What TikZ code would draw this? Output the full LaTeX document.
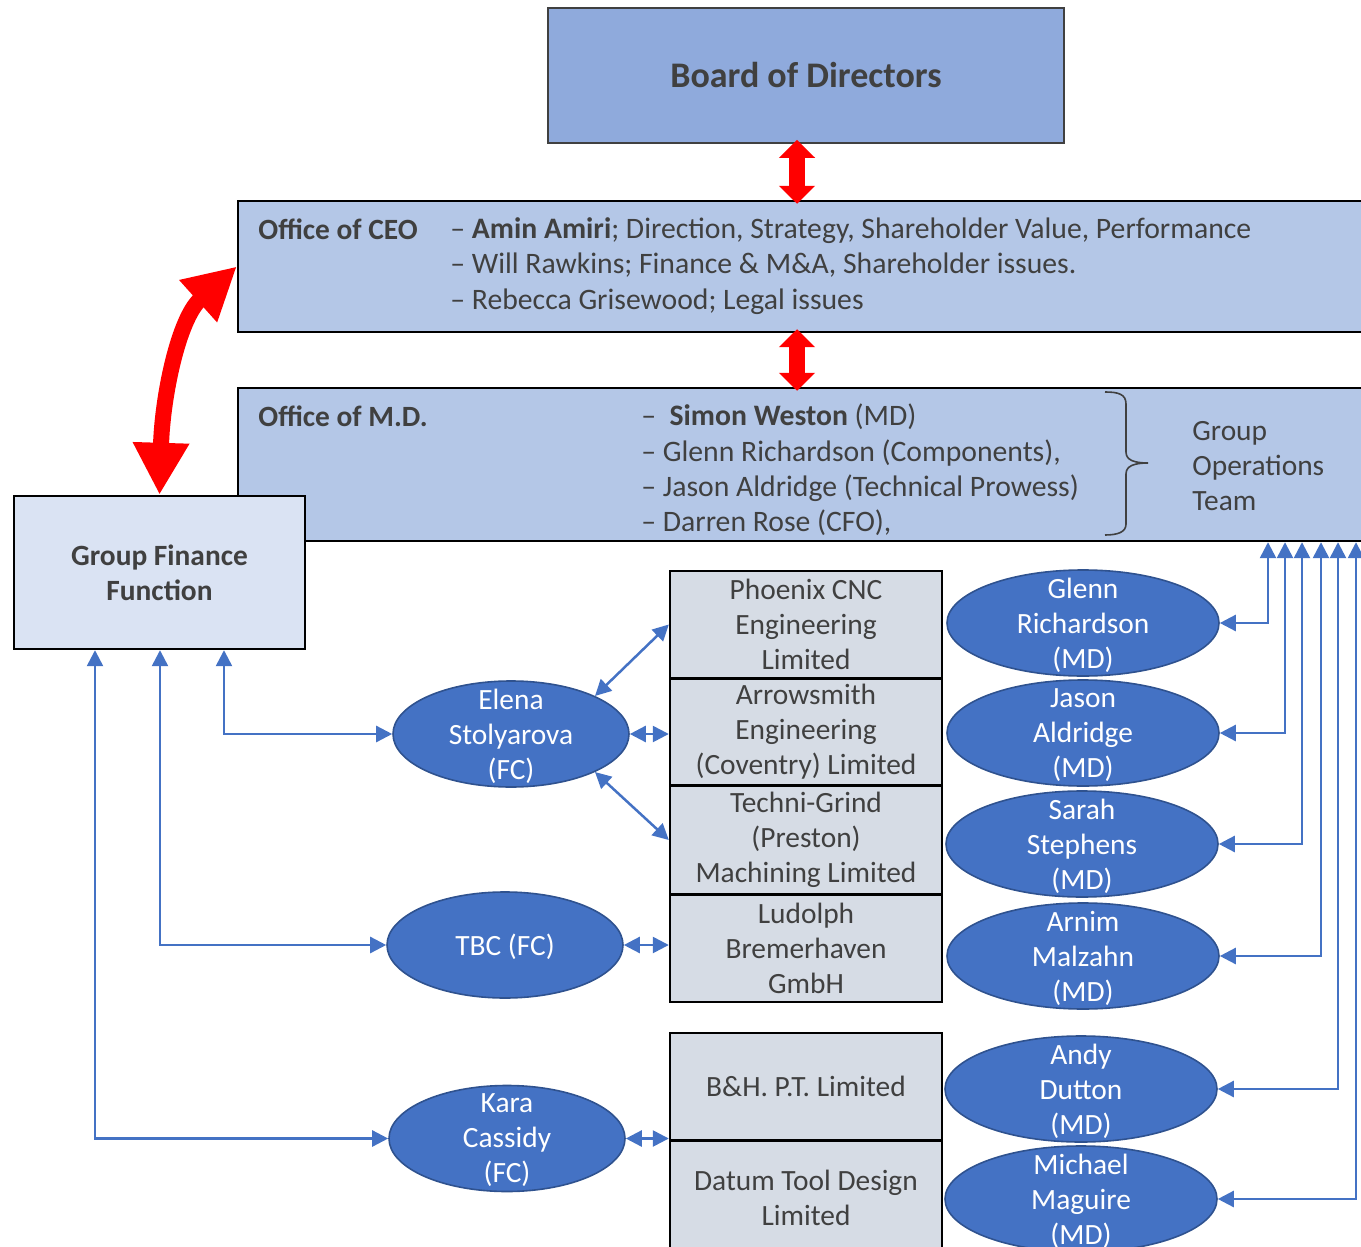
\documentclass[tikz,border=0pt]{standalone}
\usepackage{fontspec}
\setmainfont{Carlito}
\usetikzlibrary{arrows.meta,shapes.geometric}

\definecolor{boardblue}{HTML}{8FAADC}
\definecolor{officeblue}{HTML}{B4C7E7}
\definecolor{financeblue}{HTML}{DAE3F3}
\definecolor{companygray}{HTML}{D6DCE5}
\definecolor{ellipseblue}{HTML}{4472C4}
\definecolor{ellipseedge}{HTML}{2F528F}
\definecolor{textgray}{HTML}{404040}

\begin{document}
\begin{tikzpicture}[x=0.5pt,y=-0.5pt,>={Triangle[width=8pt,length=8pt]},
  txt/.style={font=\fontsize{14.7}{17.5}\selectfont, text=textgray, inner sep=0pt},
  listtxt/.style={txt, font=\fontsize{14.85}{17.7}\selectfont, anchor=west, align=left},
  head/.style={txt, font=\fontsize{14.7}{17.5}\selectfont\bfseries, anchor=west},
  board/.style={draw=textgray, line width=0.8pt, fill=boardblue, minimum width=258pt, minimum height=67.5pt, text=textgray, font=\fontsize{18}{22}\selectfont\bfseries},
  office/.style={draw=black, line width=1.2pt, fill=officeblue, minimum width=566pt, inner sep=0pt},
  finance/.style={draw=black, line width=1.2pt, fill=financeblue, minimum width=145.5pt, minimum height=76.5pt, align=center, text=textgray, font=\fontsize{14.7}{17.5}\selectfont\bfseries},
  company/.style={txt, draw=black, line width=1.2pt, fill=companygray, minimum width=136pt, align=center},
  person/.style={ellipse, draw=ellipseedge, line width=0.8pt, fill=ellipseblue, inner sep=0pt, minimum width=118pt, minimum height=53pt},
  persontext/.style={text=white, align=center, inner sep=0pt, yshift=-1pt, font=\fontsize{14.7}{17.5}\selectfont},
  link/.style={<->, draw=ellipseblue, line width=1.25pt},
  redarrow/.style={draw=red, line width=8pt, arrows={Triangle[width=17.5pt,length=9pt]-Triangle[width=17.5pt,length=9pt]}, shorten <=-2pt, shorten >=-2pt},
  bigredarrow/.style={draw=red, line width=8pt, arrows={Triangle[width=26.5pt,length=26pt]-Triangle[width=26.5pt,length=26pt]}}
]

\useasboundingbox (0,0) rectangle (1361,1247);
\clip (0,0) rectangle (1361,1247);

% Board of Directors
\node[board] (board) at (806,75.5) {Board of Directors};

% Office of CEO
\node[office, minimum height=65.5pt] (ceo) at (804,266.5) {};
\node[head] (ceohead) at (258,229) {Office of CEO};
\node[listtxt] (ceolist) at (450,266) {– \textbf{Amin Amiri}; Direction, Strategy, Shareholder Value, Performance\\ – Will Rawkins; Finance \& M\&A, Shareholder issues.\\ – Rebecca Grisewood; Legal issues};

% Office of M.D.
\node[office, minimum height=76.5pt] (md) at (804,464.5) {};
\node[head] (mdhead) at (258,416) {Office of M.D.};
\node[listtxt] (mdlist) at (641,470) {–~~\textbf{Simon Weston} (MD)\\ – Glenn Richardson (Components),\\ – Jason Aldridge (Technical Prowess)\\ – Darren Rose (CFO),};
\draw[textgray, line width=0.8pt] (1105,392) .. controls (1118,392) and (1126,394) .. (1126,404) -- (1126,452)
  .. controls (1126,460) and (1134,463) .. (1148,463) .. controls (1134,463) and (1126,466) .. (1126,474)
  -- (1126,524) .. controls (1126,532) and (1118,535) .. (1105,535);
\node[txt, anchor=west, align=left] (opsteam) at (1192,466) {Group\\ Operations\\ Team};

% Group Finance Function
\node[finance] (gff) at (159.5,572.5) {Group Finance\\ Function};

% Red arrows
\draw[redarrow] ([xshift=-4.5pt]board.south) -- ([xshift=-4.5pt]board.south |- ceo.north);
\draw[redarrow] ([xshift=-4.5pt]board.south |- ceo.south) -- ([xshift=-4.5pt]board.south |- md.north);
\draw[bigredarrow] (gff.north) .. controls +(3,-100) and +(-58,52) .. (ceo.west);

% Companies
\node[company, minimum height=53.5pt] (phoenix) at (806,624.5) {Phoenix CNC\\ Engineering\\ Limited};
\node[company, minimum height=53pt] (arrowsmith) at (806,732) {Arrowsmith\\ Engineering\\ (Coventry) Limited};
\node[company, minimum height=54pt] (techni) at (806,840) {Techni-Grind\\ (Preston)\\ Machining Limited};
\node[company, minimum height=53.5pt] (ludolph) at (806,948.5) {Ludolph\\ Bremerhaven\\ GmbH};
\node[company, minimum height=53.5pt] (bh) at (806,1086.5) {B\&H. P.T. Limited};
\node[company, minimum height=57pt] (datum) at (806,1198) {Datum Tool Design\\ Limited};

% Financial controllers
\node[person, label={[persontext]center:{Elena\\ Stolyarova\\ (FC)}}] (elena) at (511,734) {};
\node[person, label={[persontext]center:{TBC (FC)}}] (tbc) at (505,945) {};
\node[person, label={[persontext]center:{Kara\\ Cassidy\\ (FC)}}] (kara) at (507,1138.5) {};

% Managing directors
\node[person, minimum width=136pt, label={[persontext]center:{Glenn\\ Richardson\\ (MD)}}] (glenn) at (1083,623) {};
\node[person, minimum width=136pt, label={[persontext]center:{Jason\\ Aldridge\\ (MD)}}] (jason) at (1083,733) {};
\node[person, minimum width=136pt, label={[persontext]center:{Sarah\\ Stephens\\ (MD)}}] (sarah) at (1082,844) {};
\node[person, minimum width=136pt, label={[persontext]center:{Arnim\\ Malzahn\\ (MD)}}] (arnim) at (1083,956) {};
\node[person, minimum width=136pt, label={[persontext]center:{Andy\\ Dutton\\ (MD)}}] (andy) at (1081,1089) {};
\node[person, minimum width=136pt, label={[persontext]center:{Michael\\ Maguire\\ (MD)}}] (michael) at (1081,1199) {};

% Links to Group Finance Function
\foreach \who/\x in {elena/224, tbc/160, kara/95}
  \draw[link] (gff.south -| \x,0) |- (\who.west);

% Links to the companies
\draw[link] (elena.north east) -- (phoenix.west);
\draw[link] (elena.east) -- (elena.east -| arrowsmith.west);
\draw[link] (elena.south east) -- (techni.west);
\draw[link] (tbc.east) -- (tbc.east -| ludolph.west);
\draw[link] (kara.east) -- (kara.east -| bh.west);

% Links to Office of M.D.
\foreach \who/\x in {glenn/1268, jason/1285, sarah/1302, arnim/1321, andy/1338, michael/1356}
  \draw[link] (md.south -| \x,0) |- (\who.east);

\end{tikzpicture}
\end{document}
